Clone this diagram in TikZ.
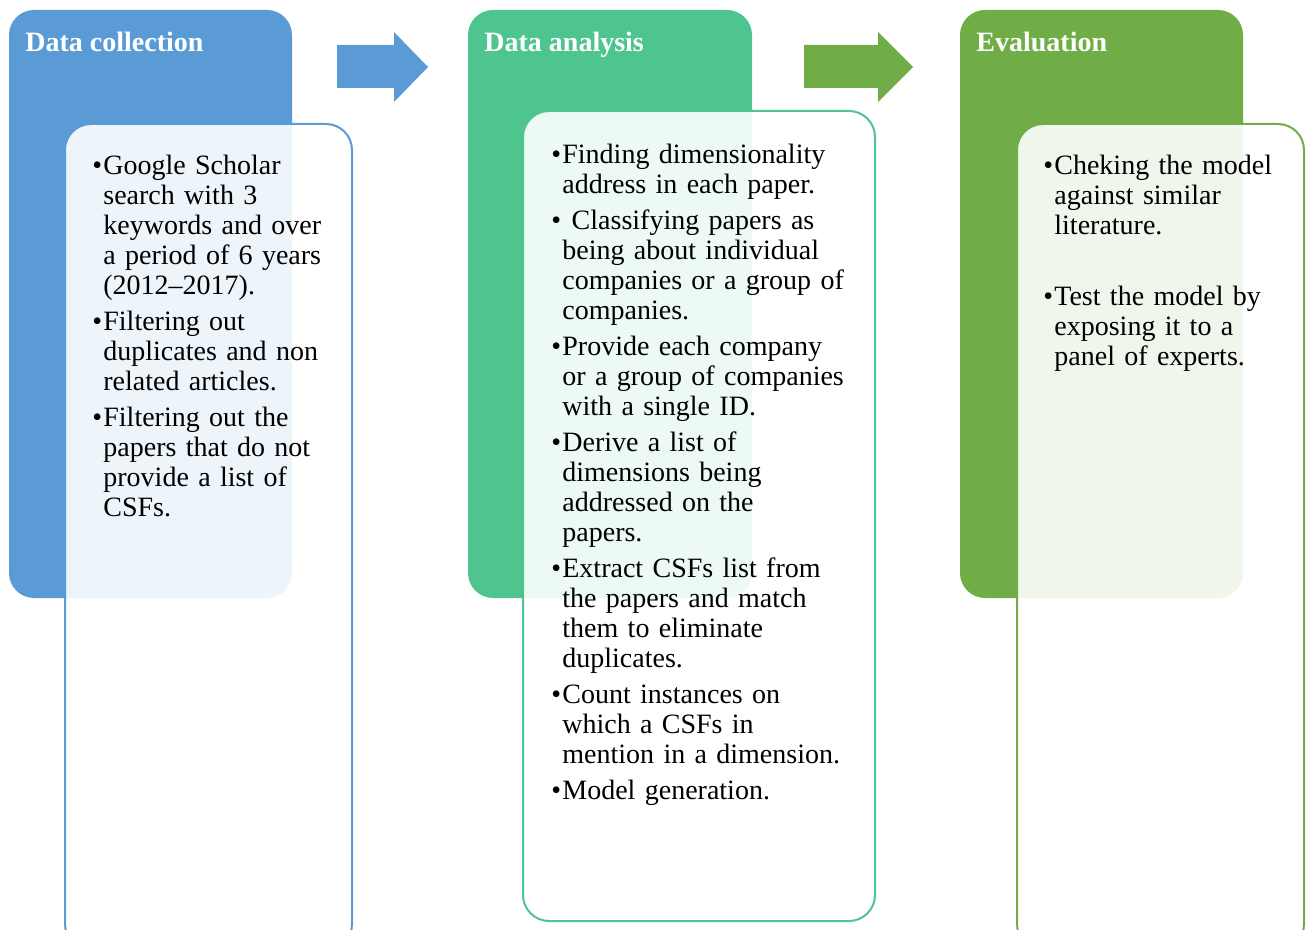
\documentclass[tikz,border=0pt]{standalone}
\usepackage{fontspec}
\setmainfont{Liberation Serif}

\definecolor{cblue}{HTML}{5B9BD5}
\definecolor{cteal}{HTML}{4EC48E}
\definecolor{cgreen}{HTML}{70AD47}

\newcommand{\bitem}[1]{\par\noindent\hangindent=5.5pt\hangafter=1\strut\makebox[5.5pt][l]{•}#1\par}

\begin{document}
\begin{tikzpicture}[x=0.5pt, y=-0.5pt]

\tikzstyle{every node} = [inner sep=0pt]
\tikzstyle{head} = [anchor=base west, text=white, font=\fontsize{14}{15}\selectfont\bfseries]
\tikzstyle{list} = [anchor=north west, font=\fontsize{14}{15}\selectfont\setlength{\parskip}{3pt}]
\tikzstyle{panel} = [line width=1pt, fill=white, fill opacity=0.9, rounded corners=13pt]

\useasboundingbox (0,0) rectangle (1306,930);
\clip (0,0) rectangle (1306,930);

% coloured columns
\fill[cblue, rounded corners=12.5pt] (9,10) rectangle (292,598);
\fill[cteal, rounded corners=12.5pt] (468,10) rectangle (752,598);
\fill[cgreen, rounded corners=12.5pt] (960,10) rectangle (1243,598);

% block arrows
\fill[cblue] (337,45) -- (394,45) -- (394,32) -- (428,67) -- (394,102) -- (394,88) -- (337,88) -- cycle;
\fill[cgreen] (804,45) -- (878,45) -- (878,32) -- (913,67) -- (878,102) -- (878,88) -- (804,88) -- cycle;

% white panels
\filldraw[panel, draw=cblue] (65,124) rectangle (352,950);
\filldraw[panel, draw=cteal] (523,111) rectangle (875,921);
\filldraw[panel, draw=cgreen] (1017,124) rectangle (1304,950);

\node[head] (h1) at (25,52) {Data collection};
\node[head] (h2) at (484,52) {Data analysis};
\node[head] (h3) at (976,52) {Evaluation};

\node[list, text width=125pt] (c) at (92,138) {%
\bitem{Google Scholar\newline search with 3\newline keywords and over\newline a period of 6 years\newline (2012–2017).}
\bitem{Filtering out\newline duplicates and non\newline related articles.}
\bitem{Filtering out the\newline papers that do not\newline provide a list of\newline CSFs.}};

\node[list, text width=150pt] (a) at (551,127) {%
\bitem{Finding dimensionality\newline address in each paper.}
\bitem{\ Classifying papers as\newline being about individual\newline companies or a group of\newline companies.}
\bitem{Provide each company\newline or a group of companies\newline with a single ID.}
\bitem{Derive a list of\newline dimensions being\newline addressed on the\newline papers.}
\bitem{Extract CSFs list from\newline the papers and match\newline them to eliminate\newline duplicates.}
\bitem{Count instances on\newline which a CSFs in\newline mention in a dimension.}
\bitem{Model generation.}};

\node[list, text width=125pt] (e) at (1043,138) {%
\bitem{Cheking the model\newline against similar\newline literature.}
\vspace{17.5pt}
\bitem{Test the model by\newline exposing it to a\newline panel of experts.}};

\end{tikzpicture}
\end{document}
